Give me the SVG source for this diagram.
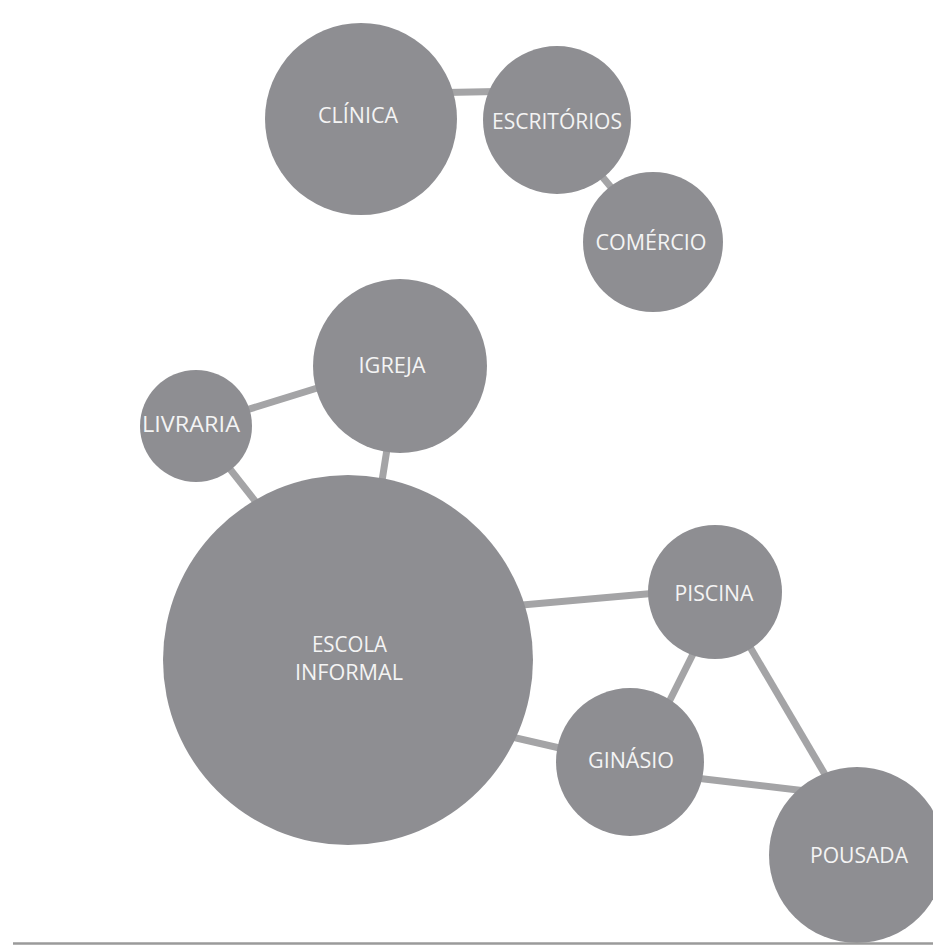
<svg xmlns="http://www.w3.org/2000/svg" width="933" height="948" viewBox="0 0 933 948">
<style>
.node{fill:#8e8e92}
.lbl{fill:#f4f4f4;font-family:"Open Sans","Noto Sans","Liberation Sans",sans-serif;font-size:22px;text-anchor:middle}
.edge{stroke:#a4a4a6;stroke-width:7;fill:none}
</style>
<rect width="933" height="948" fill="#ffffff"/>
<g id="connectors">
<line class="edge" x1="420" y1="93" x2="520" y2="91"/>
<line class="edge" x1="580" y1="150" x2="630" y2="210"/>
<line class="edge" x1="230" y1="415" x2="340" y2="381"/>
<line class="edge" x1="390" y1="430" x2="379" y2="500"/>
<line class="edge" x1="215" y1="450" x2="270" y2="520"/>
<line class="edge" x1="500" y1="607" x2="680" y2="591"/>
<line class="edge" x1="490" y1="732" x2="590" y2="755"/>
<line class="edge" x1="700" y1="640" x2="660" y2="720"/>
<line class="edge" x1="740" y1="630" x2="840" y2="800"/>
<line class="edge" x1="670" y1="775" x2="840" y2="795"/>
</g>
<g id="clinica"><circle class="node" cx="361" cy="119" r="96"/><text class="lbl" x="358" y="123" textLength="80" lengthAdjust="spacingAndGlyphs">CLÍNICA</text></g>
<g id="escritorios"><circle class="node" cx="557" cy="120" r="74"/><text class="lbl" x="557" y="129" textLength="130" lengthAdjust="spacingAndGlyphs">ESCRITÓRIOS</text></g>
<g id="comercio"><circle class="node" cx="653" cy="242" r="70"/><text class="lbl" x="651" y="250" textLength="111" lengthAdjust="spacingAndGlyphs">COMÉRCIO</text></g>
<g id="igreja"><circle class="node" cx="400" cy="366" r="87"/><text class="lbl" x="392" y="373" textLength="67" lengthAdjust="spacingAndGlyphs">IGREJA</text></g>
<g id="livraria"><circle class="node" cx="196" cy="426" r="56"/><text class="lbl" x="191" y="432" textLength="98" lengthAdjust="spacingAndGlyphs">LIVRARIA</text></g>
<g id="escola"><circle class="node" cx="348" cy="660" r="185"/><text class="lbl" x="349.5" y="652" textLength="75" lengthAdjust="spacingAndGlyphs">ESCOLA</text><text class="lbl" x="349" y="680" textLength="108" lengthAdjust="spacingAndGlyphs">INFORMAL</text></g>
<g id="piscina"><circle class="node" cx="715" cy="592" r="67"/><text class="lbl" x="714" y="601" textLength="79" lengthAdjust="spacingAndGlyphs">PISCINA</text></g>
<g id="ginasio"><circle class="node" cx="630" cy="762" r="74"/><text class="lbl" x="631" y="768" textLength="86" lengthAdjust="spacingAndGlyphs">GINÁSIO</text></g>
<g id="pousada"><circle class="node" cx="857" cy="855" r="88"/><text class="lbl" x="859" y="863" textLength="98" lengthAdjust="spacingAndGlyphs">POUSADA</text></g>
<line x1="13" y1="943.5" x2="933" y2="943.5" stroke="#9a9a9a" stroke-width="2.5"/>
</svg>
